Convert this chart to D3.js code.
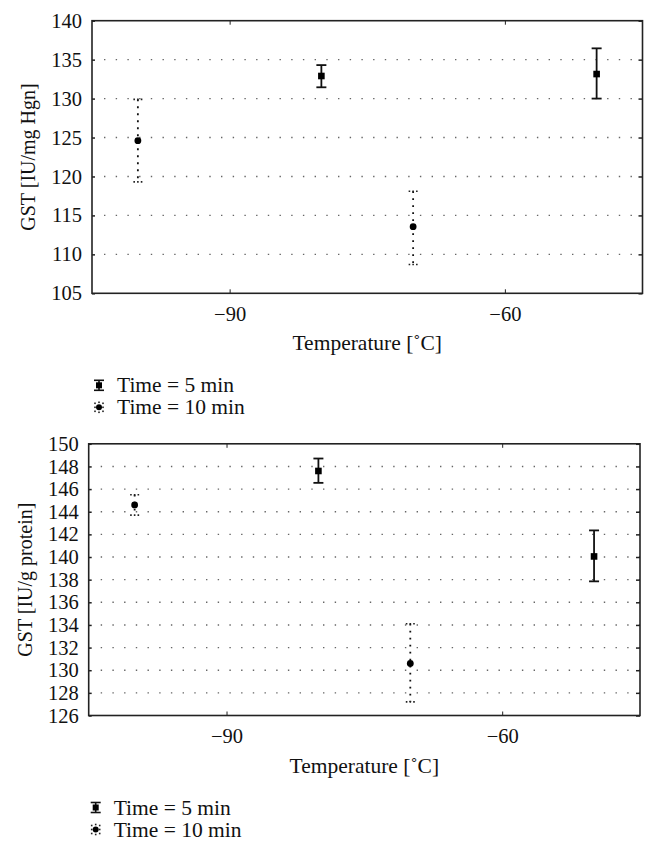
<!DOCTYPE html>
<html>
<head>
<meta charset="utf-8">
<script src="https://cdn.jsdelivr.net/npm/d3@7/dist/d3.min.js"></script>
<style>
  html, body { margin: 0; padding: 0; background: #fff; }
  svg { display: block; font-family: "Liberation Serif", "DejaVu Serif", serif; }
</style>
</head>
<body>
<svg id="chart" width="657" height="854"></svg>
<script>
// ---- data ----
const xDomain = [-105, -45];
const xTicks = [-90, -60];

// Top chart: GST [IU/mg Hgn]
const hgnYTicks = [105, 110, 115, 120, 125, 130, 135, 140];
const hgnTemps5 = [-80, -50];
const hgnMean5 = [132.9, 133.15];
const hgnLow5 = [131.45, 130.0];
const hgnHigh5 = [134.3, 136.45];
const hgnTemps10 = [-100, -70];
const hgnMean10 = [124.6, 113.55];
const hgnLow10 = [119.3, 108.7];
const hgnHigh10 = [129.9, 118.1];

// Bottom chart: GST [IU/g protein]
const protYTicks = [126, 128, 130, 132, 134, 136, 138, 140, 142, 144, 146, 148, 150];
const protTemps5 = [-80, -50];
const protMean5 = [147.6, 140.05];
const protLow5 = [146.55, 137.85];
const protHigh5 = [148.7, 142.35];
const protTemps10 = [-100, -70];
const protMean10 = [144.6, 130.6];
const protLow10 = [143.7, 127.2];
const protHigh10 = [145.5, 134.1];

const legendLabels = ["Time = 5 min", "Time = 10 min"];

// ---- drawing ----
const svg = d3.select("#chart");
const TICK_FS = 20.5;
const TITLE_FS = 21.5;

function zip(t, m, l, h) { return t.map((x, i) => ({ x, m: m[i], lo: l[i], hi: h[i] })); }

function drawPanel(cfg) {
  const g = svg.append("g");
  const x = d3.scaleLinear().domain(xDomain).range([cfg.left, cfg.right]);
  const y = d3.scaleLinear().domain([cfg.yTicks[0], cfg.yTicks[cfg.yTicks.length - 1]]).range([cfg.bottom, cfg.top]);

  // dotted horizontal grid
  g.selectAll("line.grid").data(cfg.yTicks.slice(1, -1)).join("line")
    .attr("x1", cfg.left + 12).attr("x2", cfg.right)
    .attr("y1", d => y(d)).attr("y2", d => y(d))
    .attr("stroke", "#666").attr("stroke-width", 1.4)
    .attr("stroke-dasharray", "1.4,10.3");

  // left axis ticks & labels
  const yAxisL = d3.axisLeft(y).tickValues(cfg.yTicks).tickSize(-3).tickPadding(10).tickFormat(d3.format("d"));
  const gl = g.append("g").attr("transform", `translate(${cfg.left},0)`).call(yAxisL);
  gl.select(".domain").remove();
  gl.selectAll("text").attr("font-size", TICK_FS).attr("fill", "#111").attr("font-family", "Liberation Serif");
  gl.selectAll("line").attr("stroke", "#222").attr("stroke-width", 1.5);

  // right axis inward ticks
  const yAxisR = d3.axisRight(y).tickValues(cfg.yTicks).tickSize(-4).tickFormat("");
  const gr = g.append("g").attr("transform", `translate(${cfg.right},0)`).call(yAxisR);
  gr.select(".domain").remove();
  gr.selectAll("line").attr("stroke", "#222").attr("stroke-width", 1.5);

  // bottom axis
  const xAxisB = d3.axisBottom(x).tickValues(xTicks).tickSize(-4).tickPadding(13)
    .tickFormat(d => d3.format("d")(d).replace("-", "\u2212"));
  const gb = g.append("g").attr("transform", `translate(0,${cfg.bottom})`).call(xAxisB);
  gb.select(".domain").remove();
  gb.selectAll("text").attr("font-size", TICK_FS).attr("fill", "#111").attr("font-family", "Liberation Serif");
  gb.selectAll("line").attr("stroke", "#222").attr("stroke-width", 1);

  // top axis inward ticks
  const xAxisT = d3.axisTop(x).tickValues(xTicks).tickSize(-4).tickFormat("");
  const gt = g.append("g").attr("transform", `translate(0,${cfg.top})`).call(xAxisT);
  gt.select(".domain").remove();
  gt.selectAll("line").attr("stroke", "#222").attr("stroke-width", 1);

  // frame
  g.append("rect").attr("x", cfg.left).attr("y", cfg.top)
    .attr("width", cfg.right - cfg.left).attr("height", cfg.bottom - cfg.top)
    .attr("fill", "none").attr("stroke", "#222").attr("stroke-width", 1.6);

  // axis titles
  g.append("text")
    .attr("transform", `translate(${cfg.yTitleX},${(cfg.top + cfg.bottom) / 2}) rotate(-90)`)
    .attr("text-anchor", "middle").attr("dominant-baseline", "central")
    .attr("font-size", 20).attr("fill", "#111").text(cfg.yTitle);
  g.append("text")
    .attr("x", (cfg.left + cfg.right) / 2).attr("y", cfg.bottom + 50).attr("dominant-baseline", "central")
    .attr("text-anchor", "middle")
    .attr("font-size", TITLE_FS).attr("fill", "#111").text("Temperature [\u02DAC]");

  // series: 5 min (solid)
  const s5 = zip(cfg.t5, cfg.m5, cfg.l5, cfg.h5);
  const g5 = g.selectAll("g.s5").data(s5).join("g");
  g5.append("line").attr("x1", d => x(d.x)).attr("x2", d => x(d.x))
    .attr("y1", d => y(d.lo)).attr("y2", d => y(d.hi)).attr("stroke", "#111").attr("stroke-width", 1.8);
  g5.append("line").attr("x1", d => x(d.x) - 5).attr("x2", d => x(d.x) + 5)
    .attr("y1", d => y(d.hi)).attr("y2", d => y(d.hi)).attr("stroke", "#111").attr("stroke-width", 1.8);
  g5.append("line").attr("x1", d => x(d.x) - 5).attr("x2", d => x(d.x) + 5)
    .attr("y1", d => y(d.lo)).attr("y2", d => y(d.lo)).attr("stroke", "#111").attr("stroke-width", 1.8);
  g5.append("rect").attr("x", d => x(d.x) - 3.3).attr("y", d => y(d.m) - 3.3)
    .attr("width", 6.6).attr("height", 6.6).attr("fill", "#000");

  // series: 10 min (dotted)
  const s10 = zip(cfg.t10, cfg.m10, cfg.l10, cfg.h10);
  const g10 = g.selectAll("g.s10").data(s10).join("g");
  g10.append("line").attr("x1", d => x(d.x)).attr("x2", d => x(d.x))
    .attr("y1", d => y(d.hi)).attr("y2", d => y(d.lo)).attr("stroke", "#111").attr("stroke-width", 1.8)
    .attr("stroke-dasharray", "1.8,5.2");
  g10.append("line").attr("x1", d => x(d.x) - 4.5).attr("x2", d => x(d.x) + 4.5)
    .attr("y1", d => y(d.hi)).attr("y2", d => y(d.hi)).attr("stroke", "#222").attr("stroke-width", 1.6)
    .attr("stroke-dasharray", "1.6,2.1");
  g10.append("line").attr("x1", d => x(d.x) - 4.5).attr("x2", d => x(d.x) + 4.5)
    .attr("y1", d => y(d.lo)).attr("y2", d => y(d.lo)).attr("stroke", "#222").attr("stroke-width", 1.6)
    .attr("stroke-dasharray", "1.6,2.1");
  g10.append("circle").attr("cx", d => x(d.x)).attr("cy", d => y(d.m)).attr("r", 3.4).attr("fill", "#000");

  // legend
  const lx = cfg.left + 1, ly = cfg.bottom + 92;
  const lg = g.append("g");
  // icon 5 min
  lg.append("line").attr("x1", lx + 1).attr("x2", lx + 11).attr("y1", ly - 5).attr("y2", ly - 5).attr("stroke", "#111").attr("stroke-width", 1.6);
  lg.append("line").attr("x1", lx + 1).attr("x2", lx + 11).attr("y1", ly + 5).attr("y2", ly + 5).attr("stroke", "#111").attr("stroke-width", 1.6);
  lg.append("line").attr("x1", lx + 6).attr("x2", lx + 6).attr("y1", ly - 5).attr("y2", ly + 5).attr("stroke", "#111").attr("stroke-width", 1.6);
  lg.append("rect").attr("x", lx + 3).attr("y", ly - 3).attr("width", 6).attr("height", 6).attr("fill", "#000");
  // icon 10 min
  const ly2 = ly + 22;
  [[-4, -4], [-4, 0], [-4, 4], [4, -4], [4, 0], [4, 4], [0, -5], [0, 5]].forEach(p => {
    lg.append("rect").attr("x", lx + 6 + p[0] - 0.8).attr("y", ly2 + p[1] - 0.8).attr("width", 1.6).attr("height", 1.6).attr("fill", "#222");
  });
  lg.append("circle").attr("cx", lx + 6).attr("cy", ly2).attr("r", 3).attr("fill", "#000");
  lg.selectAll("text.leg").data(legendLabels).join("text")
    .attr("x", lx + 24).attr("y", (d, i) => ly + i * 22).attr("dominant-baseline", "central")
    .attr("font-size", TITLE_FS).attr("fill", "#111").text(d => d);
}

drawPanel({
  left: 92, right: 642.5, top: 20.7, bottom: 293.3,
  yTicks: hgnYTicks, yTitle: "GST [IU/mg Hgn]", yTitleX: 28,
  t5: hgnTemps5, m5: hgnMean5, l5: hgnLow5, h5: hgnHigh5,
  t10: hgnTemps10, m10: hgnMean10, l10: hgnLow10, h10: hgnHigh10
});

drawPanel({
  left: 88.7, right: 640, top: 443.8, bottom: 715.5,
  yTicks: protYTicks, yTitle: "GST [IU/g protein]", yTitleX: 25,
  t5: protTemps5, m5: protMean5, l5: protLow5, h5: protHigh5,
  t10: protTemps10, m10: protMean10, l10: protLow10, h10: protHigh10
});
</script>
</body>
</html>
